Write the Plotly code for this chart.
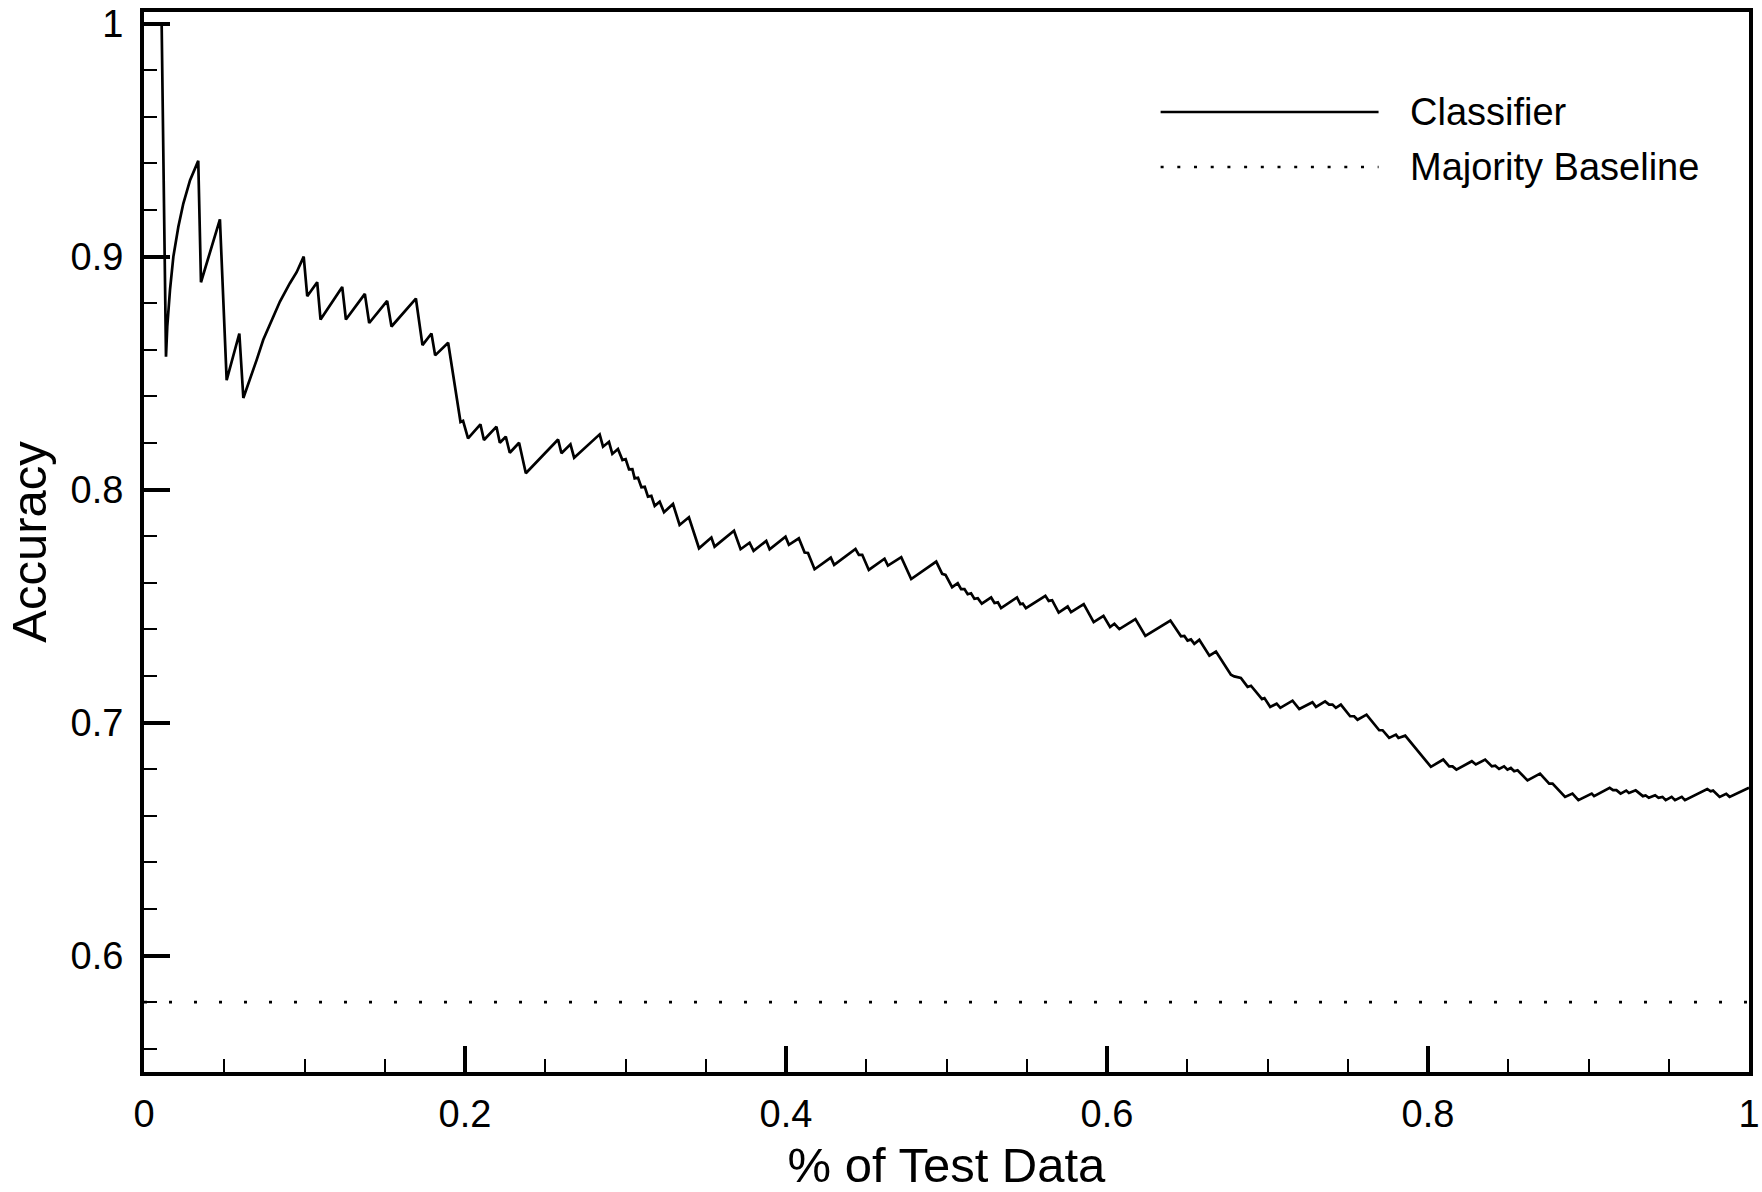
import plotly.graph_objects as go

# ---------------- data ----------------
pct_test = [
    0.0030, 0.0110, 0.0137, 0.0145, 0.0162, 0.0183, 0.0214, 0.0245, 0.0287, 0.0338,
    0.0355, 0.0473, 0.0515, 0.0594, 0.0619, 0.0660, 0.0702, 0.0743, 0.0795, 0.0847,
    0.0909, 0.0951, 0.0995, 0.1017,
    0.1079, 0.1100, 0.1235, 0.1258, 0.1376, 0.1403, 0.1515, 0.1542, 0.1694, 0.1735,
    0.1791, 0.1814, 0.1895, 0.1972, 0.1988, 0.2019, 0.2096, 0.2118, 0.2196, 0.2217,
    0.2254, 0.2279, 0.2337, 0.2379, 0.2580, 0.2601, 0.2657, 0.2680, 0.2839, 0.2860,
    0.2897, 0.2918, 0.2953, 0.2981, 0.3001, 0.3022, 0.3043, 0.3057, 0.3078, 0.3099,
    0.3120, 0.3140, 0.3161, 0.3182, 0.3213, 0.3240, 0.3296, 0.3337, 0.3395, 0.3458,
    0.3535, 0.3555, 0.3676, 0.3717, 0.3773, 0.3798, 0.3877, 0.3898, 0.3997, 0.4018,
    0.4080, 0.4116, 0.4137, 0.4178, 0.4279, 0.4300, 0.4433, 0.4454, 0.4475, 0.4516,
    0.4614, 0.4635, 0.4718, 0.4780, 0.4936, 0.4973, 0.4994, 0.5035, 0.5070, 0.5091,
    0.5112, 0.5132, 0.5153, 0.5174, 0.5195, 0.5220, 0.5278, 0.5299, 0.5320, 0.5340,
    0.5439, 0.5460, 0.5475, 0.5495, 0.5616, 0.5637, 0.5658, 0.5699, 0.5755, 0.5776,
    0.5855, 0.5917, 0.5978, 0.6019, 0.6046, 0.6077, 0.6177, 0.6239, 0.6395, 0.6461,
    0.6482, 0.6502, 0.6523, 0.6544, 0.6575, 0.6638, 0.6679, 0.6772, 0.6793, 0.6813,
    0.6834, 0.6876, 0.6897, 0.6966, 0.6981, 0.7017, 0.7057, 0.7080, 0.7156, 0.7198,
    0.7280, 0.7302, 0.7359, 0.7384, 0.7405, 0.7426, 0.7457, 0.7515, 0.7540, 0.7561,
    0.7617, 0.7696, 0.7717, 0.7758, 0.7800, 0.7816, 0.7858, 0.8018, 0.8095, 0.8132,
    0.8153, 0.8177, 0.8273, 0.8298, 0.8356, 0.8398, 0.8419, 0.8443, 0.8474, 0.8495,
    0.8516, 0.8537, 0.8558, 0.8620, 0.8698, 0.8755, 0.8776, 0.8854, 0.8900, 0.8937,
    0.9020, 0.9035, 0.9132, 0.9153, 0.9174, 0.9200, 0.9235, 0.9252, 0.9294, 0.9339,
    0.9356, 0.9376, 0.9415, 0.9436, 0.9461, 0.9481, 0.9518, 0.9539, 0.9581, 0.9601,
    0.9740, 0.9761, 0.9776, 0.9817, 0.9858, 0.9879, 0.9979, 1.0000,
]
accuracy = [
    1.0000, 1.0000, 0.8570, 0.8700, 0.8857, 0.9000, 0.9128, 0.9228, 0.9328, 0.9411,
    0.8890, 0.9160, 0.8470, 0.8670, 0.8393, 0.8471, 0.8557, 0.8643, 0.8728, 0.8807,
    0.8886, 0.8933, 0.9000, 0.8830,
    0.8890, 0.8730, 0.8870, 0.8730, 0.8840, 0.8715, 0.8810, 0.8700, 0.8820, 0.8620,
    0.8670, 0.8576, 0.8630, 0.8290, 0.8295, 0.8220, 0.8280, 0.8213, 0.8270, 0.8201,
    0.8227, 0.8158, 0.8201, 0.8070, 0.8215, 0.8156, 0.8194, 0.8137, 0.8237, 0.8184,
    0.8205, 0.8153, 0.8174, 0.8127, 0.8131, 0.8087, 0.8088, 0.8048, 0.8051, 0.8010,
    0.8012, 0.7970, 0.7973, 0.7930, 0.7948, 0.7903, 0.7938, 0.7848, 0.7881, 0.7748,
    0.7794, 0.7755, 0.7823, 0.7744, 0.7772, 0.7737, 0.7780, 0.7744, 0.7798, 0.7763,
    0.7791, 0.7730, 0.7728, 0.7658, 0.7708, 0.7677, 0.7745, 0.7720, 0.7720, 0.7655,
    0.7703, 0.7674, 0.7710, 0.7616, 0.7691, 0.7638, 0.7634, 0.7581, 0.7598, 0.7573,
    0.7573, 0.7551, 0.7555, 0.7531, 0.7534, 0.7510, 0.7537, 0.7513, 0.7516, 0.7491,
    0.7537, 0.7508, 0.7511, 0.7491, 0.7544, 0.7522, 0.7525, 0.7472, 0.7498, 0.7474,
    0.7508, 0.7431, 0.7458, 0.7410, 0.7424, 0.7401, 0.7444, 0.7372, 0.7438, 0.7370,
    0.7372, 0.7352, 0.7357, 0.7338, 0.7355, 0.7287, 0.7305, 0.7205, 0.7198, 0.7195,
    0.7191, 0.7153, 0.7158, 0.7101, 0.7105, 0.7067, 0.7081, 0.7063, 0.7094, 0.7058,
    0.7087, 0.7067, 0.7091, 0.7077, 0.7077, 0.7063, 0.7077, 0.7027, 0.7027, 0.7012,
    0.7034, 0.6967, 0.6967, 0.6934, 0.6948, 0.6934, 0.6944, 0.6810, 0.6841, 0.6812,
    0.6812, 0.6798, 0.6834, 0.6820, 0.6841, 0.6812, 0.6815, 0.6801, 0.6812, 0.6798,
    0.6805, 0.6791, 0.6795, 0.6752, 0.6781, 0.6738, 0.6738, 0.6681, 0.6695, 0.6667,
    0.6695, 0.6684, 0.6720, 0.6710, 0.6710, 0.6695, 0.6708, 0.6698, 0.6709, 0.6684,
    0.6687, 0.6677, 0.6688, 0.6677, 0.6681, 0.6667, 0.6681, 0.6667, 0.6681, 0.6667,
    0.6715, 0.6705, 0.6708, 0.6681, 0.6694, 0.6681, 0.6712, 0.6720,
]
baseline_x = [0.0, 1.0]
baseline_y = [0.58, 0.58]

x_tickvals = [0, 0.2, 0.4, 0.6, 0.8, 1.0]
x_ticktext = ["0", "0.2", "0.4", "0.6", "0.8", "1"]
y_tickvals = [0.6, 0.7, 0.8, 0.9, 1.0]
y_ticktext = ["0.6", "0.7", "0.8", "0.9", "1"]
series_names = ["Classifier", "Majority Baseline"]
x_title = "% of Test Data"
y_title = "Accuracy"

FONT = "Liberation Sans, Arial, Helvetica, sans-serif"

fig = go.Figure()
fig.add_trace(go.Scatter(
    x=pct_test, y=accuracy, mode="lines", name=series_names[0],
    line=dict(color="black", width=2.7), showlegend=False,
))
fig.add_trace(go.Scatter(
    x=baseline_x, y=baseline_y, mode="lines", name=series_names[1],
    line=dict(color="black", width=2.7, dash="3px,22px"), showlegend=False,
))

# manual legend (long line samples as in the reference)
leg_x0, leg_x1, leg_tx = 0.6334, 0.7692, 0.7873
leg_y = [0.9057, 0.8538]
leg_dash = ["solid", "3px,13.7px"]
for name, yy, dsh in zip(series_names, leg_y, leg_dash):
    fig.add_shape(type="line", xref="paper", yref="paper",
                  x0=leg_x0, x1=leg_x1, y0=yy, y1=yy,
                  line=dict(color="black", width=2.5, dash=dsh))
    fig.add_annotation(xref="paper", yref="paper", x=leg_tx, y=yy,
                       text=name, showarrow=False, xanchor="left", yanchor="middle",
                       font=dict(family=FONT, size=38, color="black"))

axis_common = dict(
    showline=True, linewidth=4, linecolor="black", mirror=True,
    showgrid=False, zeroline=False,
    ticks="inside", ticklen=26, tickwidth=4, tickcolor="black",
    tickfont=dict(family=FONT, size=38, color="black"),
)

fig.update_xaxes(
    range=[0, 1], tickmode="array", tickvals=x_tickvals, ticktext=x_ticktext,
    ticklabelstandoff=5,
    minor=dict(dtick=0.05, tick0=0, ticks="inside", ticklen=13, tickwidth=2,
               tickcolor="black", showgrid=False),
    title=dict(text=x_title, font=dict(family=FONT, size=49, color="black"), standoff=20),
    **axis_common,
)
fig.update_yaxes(
    range=[0.55, 1.005], tickmode="array", tickvals=y_tickvals, ticktext=y_ticktext,
    ticklabelstandoff=9,
    minor=dict(dtick=0.02, tick0=0, ticks="inside", ticklen=13, tickwidth=2,
               tickcolor="black", showgrid=False),
    title=dict(text=y_title, font=dict(family=FONT, size=49, color="black"), standoff=9),
    **axis_common,
)

fig.update_layout(
    width=1762, height=1192,
    margin=dict(l=144, r=12.5, t=12, b=119.5, autoexpand=False),
    plot_bgcolor="white", paper_bgcolor="white",
    font=dict(family=FONT, color="black"),
    showlegend=False,
)

fig.write_html("out.html")
